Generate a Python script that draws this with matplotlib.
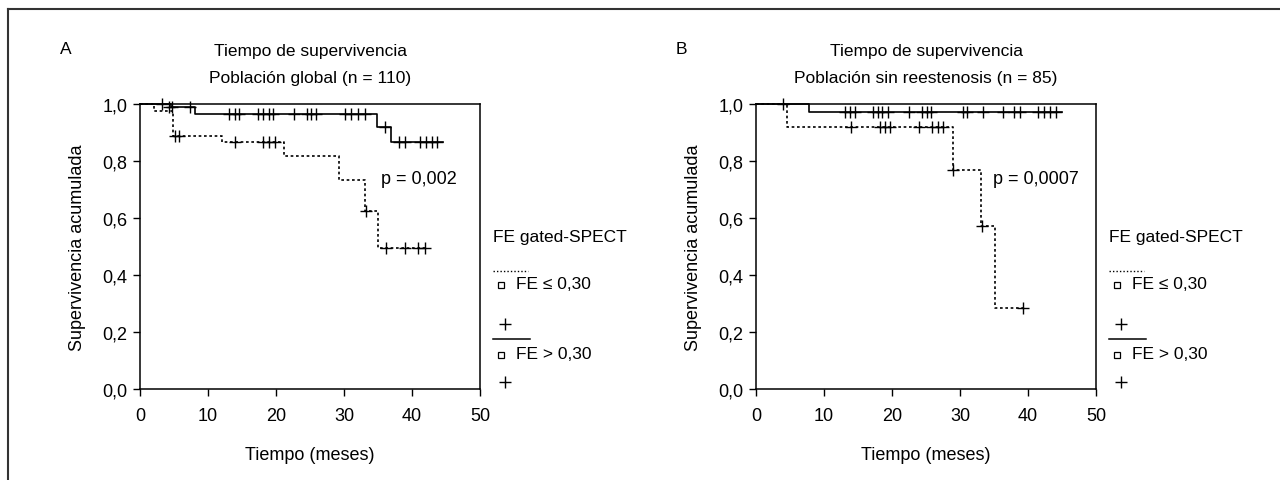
import matplotlib
matplotlib.use('Agg')
import matplotlib.pyplot as plt
from matplotlib.lines import Line2D

plt.rcParams['font.family'] = ['Liberation Sans Narrow', 'Liberation Sans', 'DejaVu Sans']
plt.rcParams['font.size'] = 12

# panel A: poblacion global
a_low_t = [0, 2.0, 4.8, 12.0, 21.2, 29.2, 33.1, 35.0, 42.4]
a_low_s = [1.0, 0.976, 0.889, 0.865, 0.819, 0.733, 0.623, 0.495, 0.495]
a_low_cens_t = [5.1, 5.8, 14.0, 18.1, 19.0, 19.8, 33.2, 36.2, 39.0, 40.9, 41.9]
a_low_cens_s = [0.889, 0.889, 0.865, 0.865, 0.865, 0.865, 0.623, 0.495, 0.495, 0.495, 0.495]

a_high_t = [0, 4.5, 8.1, 34.9, 36.9, 44.5]
a_high_s = [1.0, 0.99, 0.965, 0.918, 0.868, 0.868]
a_high_cens_t = [3.2, 4.3, 4.7, 7.4, 13.1, 13.9, 14.6, 17.3, 18.1, 18.9, 19.6, 22.7,
                 24.5, 25.2, 25.9, 30.1, 31.1, 32.1, 33.1, 36.1,
                 38.1, 39.0, 41.2, 42.1, 42.9, 43.7]
a_high_cens_s = [1.0, 0.99, 0.99, 0.99] + [0.965] * 15 + [0.918] + [0.868] * 6

# panel B: poblacion sin reestenosis
b_low_t = [0, 4.6, 29.0, 33.1, 35.1, 39.5]
b_low_s = [1.0, 0.92, 0.77, 0.571, 0.285, 0.285]
b_low_cens_t = [14.0, 18.2, 18.9, 19.7, 23.9, 25.9, 26.7, 27.5, 29.0, 33.2, 39.3]
b_low_cens_s = [0.92] * 8 + [0.77, 0.571, 0.285]

b_high_t = [0, 7.8, 45.0]
b_high_s = [1.0, 0.973, 0.973]
b_high_cens_t = [3.9, 13.1, 13.8, 14.6, 17.2, 17.9, 18.6, 19.4, 22.5, 24.4, 25.1, 25.8,
                 30.5, 31.1, 33.4, 36.3, 38.0, 38.8, 41.5, 42.4, 43.2, 44.1]
b_high_cens_s = [1.0] + [0.973] * 21

x_ticks = [0, 10, 20, 30, 40, 50]
y_ticks = [0.0, 0.2, 0.4, 0.6, 0.8, 1.0]
y_labels = ['0,0', '0,2', '0,4', '0,6', '0,8', '1,0']

panels = [
    ('A', 'Tiempo de supervivencia\nPoblación global (n = 110)', 'p = 0,002', (35.5, 0.74),
     a_low_t, a_low_s, a_low_cens_t, a_low_cens_s,
     a_high_t, a_high_s, a_high_cens_t, a_high_cens_s),
    ('B', 'Tiempo de supervivencia\nPoblación sin reestenosis (n = 85)', 'p = 0,0007', (34.9, 0.74),
     b_low_t, b_low_s, b_low_cens_t, b_low_cens_s,
     b_high_t, b_high_s, b_high_cens_t, b_high_cens_s),
]

dots = (0, (1.6, 1.6))

fig = plt.figure(figsize=(12.8, 4.81), dpi=100)

# frame around the figure (top and left only, as cropped)
fig.add_artist(Line2D([7.5 / 1280, 7.5 / 1280], [0, 1 - 9.5 / 481], transform=fig.transFigure,
                      color='#333333', lw=1.5))
fig.add_artist(Line2D([7.5 / 1280, 1], [1 - 9.5 / 481, 1 - 9.5 / 481], transform=fig.transFigure,
                      color='#333333', lw=1.5))

lefts = [140 / 1280, 756 / 1280]
for i, p in enumerate(panels):
    (letter, title, ptxt, ppos, lt, ls, lct, lcs, ht, hs, hct, hcs) = p
    ax = fig.add_axes([lefts[i], 91 / 481, 340 / 1280, 285 / 481])
    ax.step(lt, ls, where='post', color='black', lw=1.2, linestyle=dots, clip_on=False)
    ax.plot(lct, lcs, '+', color='black', ms=8, mew=1.0, clip_on=False)
    ax.step(ht, hs, where='post', color='black', lw=1.2, clip_on=False)
    ax.plot(hct, hcs, '+', color='black', ms=8, mew=1.0, clip_on=False)

    ax.set_xlim(0, 50)
    ax.set_ylim(0, 1)
    ax.set_xticks(x_ticks)
    ax.set_yticks(y_ticks)
    ax.set_yticklabels(y_labels)
    ax.tick_params(direction='out', length=5, width=1.0, labelsize=13)
    ax.tick_params(axis='x', pad=8)
    ax.tick_params(axis='y', pad=4)
    for s in ax.spines.values():
        s.set_linewidth(1.1)
    ax.set_xlabel('Tiempo (meses)', fontsize=13, labelpad=16)
    ax.set_ylabel('Supervivencia acumulada', fontsize=13, labelpad=12)
    ax.set_title(title, fontsize=12.5, linespacing=1.95, pad=16)
    ax.text(ppos[0], ppos[1], ptxt, fontsize=13, va='center', ha='left')

    x0 = lefts[i] * 1280
    fig.text((x0 - 80) / 1280, 1 - 50 / 481, letter, fontsize=12.5, va='center', ha='left')

    # legend drawn by hand
    lx = x0 + 353
    fig.text(lx / 1280, 1 - 238 / 481, 'FE gated-SPECT', fontsize=12.5, va='center', ha='left')
    fig.add_artist(Line2D([lx / 1280, (lx + 35) / 1280], [1 - 271.5 / 481] * 2,
                          transform=fig.transFigure, color='black', lw=1.0, linestyle=(0, (1, 1.5))))
    fig.add_artist(Line2D([(lx + 8) / 1280], [1 - 286 / 481], transform=fig.transFigure,
                          marker='s', ms=4.5, mfc='white', mec='black', mew=0.9, linestyle='none'))
    fig.text((lx + 23) / 1280, 1 - 285 / 481, 'FE ≤ 0,30', fontsize=12.5, va='center', ha='left')
    fig.add_artist(Line2D([(lx + 12) / 1280], [1 - 325 / 481], transform=fig.transFigure,
                          marker='+', ms=8, mec='black', mew=1.0, linestyle='none'))
    fig.add_artist(Line2D([lx / 1280, (lx + 37) / 1280], [1 - 340 / 481] * 2,
                          transform=fig.transFigure, color='black', lw=1.1))
    fig.add_artist(Line2D([(lx + 8) / 1280], [1 - 356 / 481], transform=fig.transFigure,
                          marker='s', ms=4.5, mfc='white', mec='black', mew=0.9, linestyle='none'))
    fig.text((lx + 23) / 1280, 1 - 355 / 481, 'FE > 0,30', fontsize=12.5, va='center', ha='left')
    fig.add_artist(Line2D([(lx + 12) / 1280], [1 - 383 / 481], transform=fig.transFigure,
                          marker='+', ms=8, mec='black', mew=1.0, linestyle='none'))

fig.savefig('out.png', dpi=100)
